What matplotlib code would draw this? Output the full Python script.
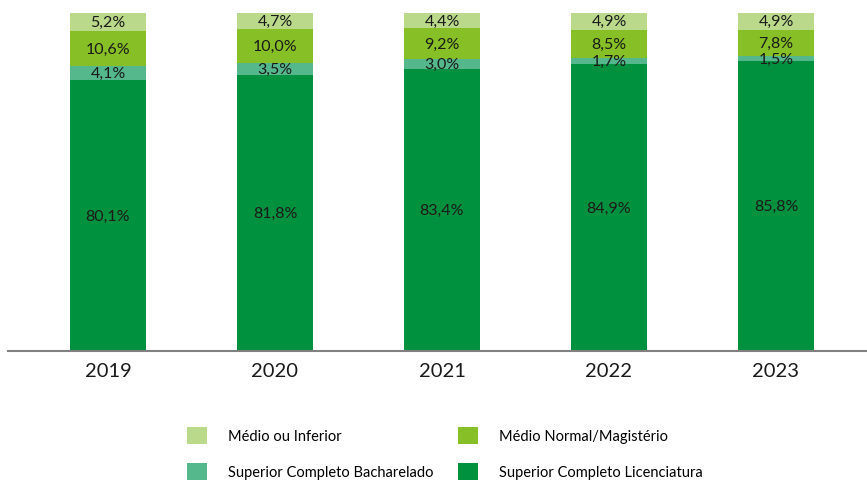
import matplotlib.pyplot as plt
from matplotlib.patches import Patch
import numpy as np

# ── Data ─────────────────────────────────────────────────────────────
years = ["2019", "2020", "2021", "2022", "2023"]
licenciatura = [80.1, 81.8, 83.4, 84.9, 85.8]
bacharelado = [4.1, 3.5, 3.0, 1.7, 1.5]
medio_normal = [10.6, 10.0, 9.2, 8.5, 7.8]
medio_inferior = [5.2, 4.7, 4.4, 4.9, 4.9]

series = [
    ("Superior Completo Licenciatura", licenciatura, "#00913f"),
    ("Superior Completo Bacharelado", bacharelado, "#55b88c"),
    ("Médio Normal/Magistério", medio_normal, "#86bf26"),
    ("Médio ou Inferior", medio_inferior, "#bad98b"),
]

plt.rcParams["font.family"] = ["Lato", "DejaVu Sans"]

fig = plt.figure(figsize=(8.67, 4.81), dpi=100)
ax = fig.add_axes([8 / 867, 129 / 481, 1 - 8 / 867, 338 / 481])

x = np.arange(len(years))
bottom = np.zeros(len(years))
for name, vals, color in series:
    vals = np.array(vals)
    ax.bar(x, vals, width=0.455, bottom=bottom, color=color, edgecolor="none")
    for xi, b, v in zip(x, bottom, vals):
        ax.text(xi, b + v / 2, f"{v:.1f}%".replace(".", ","), ha="center",
                va="center", fontsize=11.5, color="#1a1a1a")
    bottom += vals

ax.set_xlim(-100 / 167, 759 / 167)
ax.set_ylim(0, 100)
ax.set_xticks(x)
ax.set_xticklabels(years, fontsize=14.5, color="#1a1a1a")
ax.tick_params(axis="x", length=0, pad=8)
ax.set_yticks([])
for s in ["top", "right", "left"]:
    ax.spines[s].set_visible(False)
ax.spines["bottom"].set_color("#808080")
ax.spines["bottom"].set_linewidth(1.5)

colors = {n: c for n, _, c in series}
order = ["Médio ou Inferior", "Superior Completo Bacharelado",
         "Médio Normal/Magistério", "Superior Completo Licenciatura"]
handles = [Patch(facecolor=colors[n], edgecolor="none", label=n) for n in order]
fig.legend(handles=handles, ncol=2, loc="center", bbox_to_anchor=(0.513, 0.055),
           frameon=False, fontsize=10.5, handlelength=1.4, handleheight=1.4,
           handletextpad=1.4, columnspacing=1.7, labelspacing=1.3)

fig.savefig("out.png", dpi=100)
